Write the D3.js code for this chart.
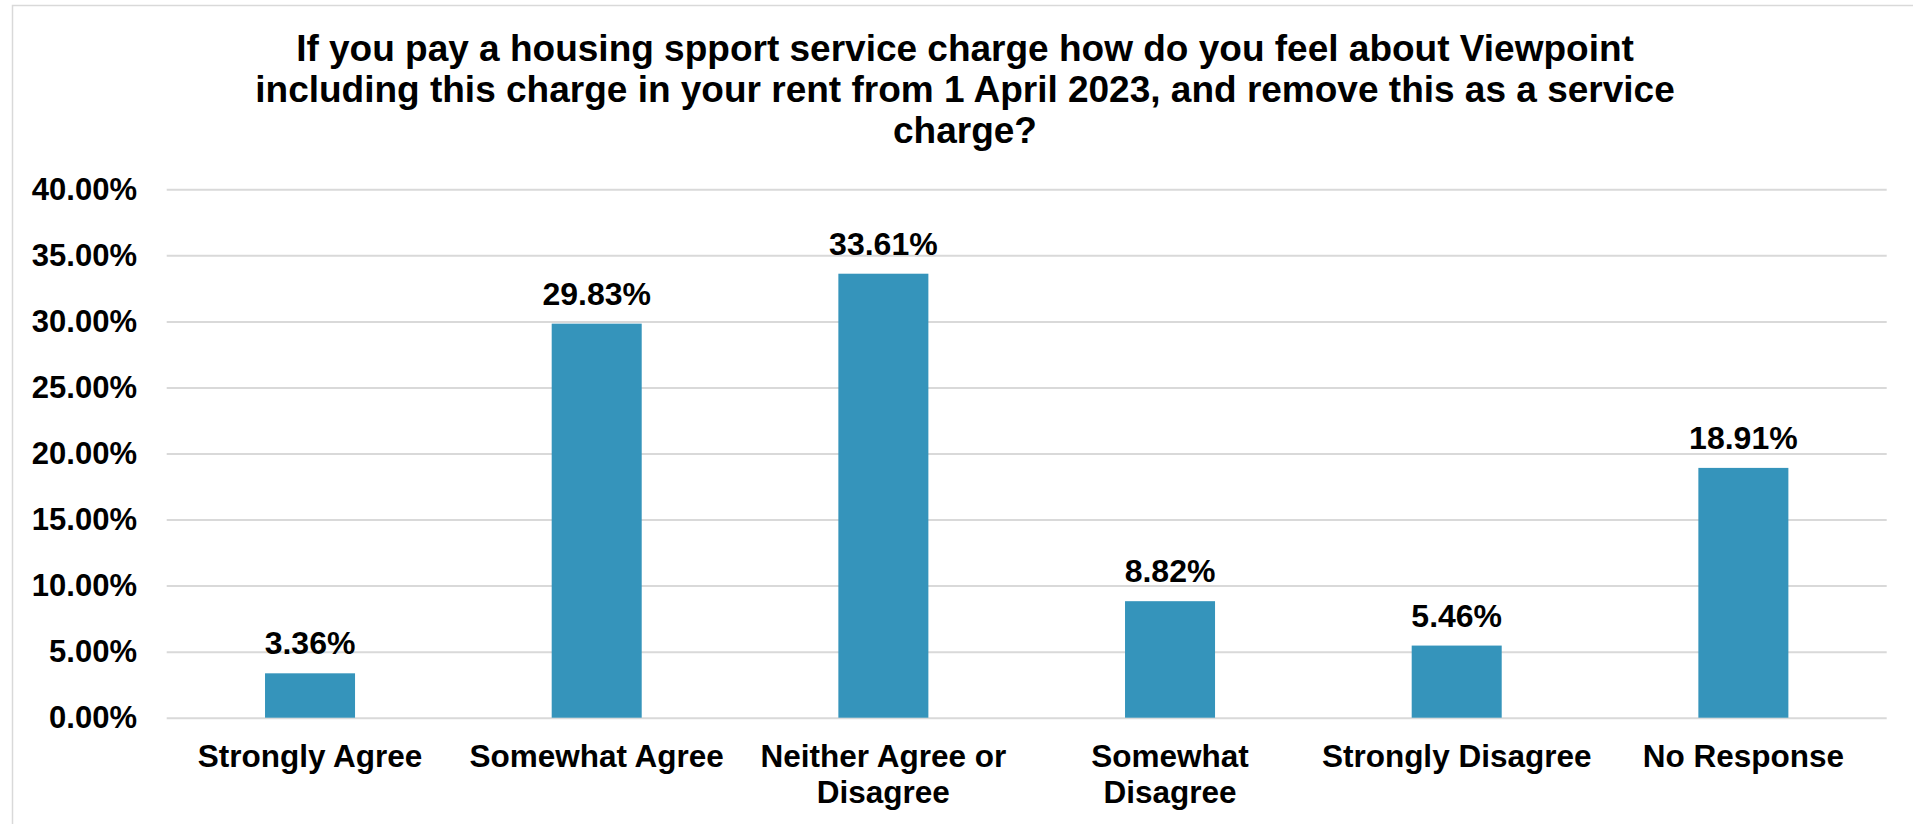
<!DOCTYPE html>
<html>
<head>
<meta charset="utf-8">
<script src="https://cdn.jsdelivr.net/npm/d3@7"></script>
<style>
  html, body { margin: 0; padding: 0; background: #ffffff; }
  svg { display: block; }
  text { font-family: Arial, "Liberation Sans", Helvetica, sans-serif; font-weight: bold; fill: #000; }
</style>
</head>
<body>
<svg id="chart" width="1913" height="824"></svg>
<script>
// Survey responses (share of respondents)
const categories = ["Strongly Agree", "Somewhat Agree", "Neither Agree or Disagree",
                    "Somewhat Disagree", "Strongly Disagree", "No Response"];
const shares = [3.36, 29.83, 33.61, 8.82, 5.46, 18.91];
const yTicks = [0, 5, 10, 15, 20, 25, 30, 35, 40];
const titleLines = [
  "If you pay a housing spport service charge how do you feel about Viewpoint",
  "including this charge in your rent from 1 April 2023, and remove this as a service",
  "charge?"
];

const W = 1913, H = 824;
const plot = { left: 166.7, right: 1886.7, top: 189.3, bottom: 717.7 };
const svg = d3.select("#chart");

// chart frame
svg.append("rect")
  .attr("x", 12.5).attr("y", 5.5)
  .attr("width", W).attr("height", H)
  .attr("fill", "#fff")
  .attr("stroke", "#d9d9d9").attr("stroke-width", 1.5);

// title
svg.append("g").selectAll("text")
  .data(titleLines).join("text")
  .attr("x", 965)
  .attr("y", (d, i) => 60.7 + i * 41)
  .attr("text-anchor", "middle")
  .style("font-size", "37px")
  .text(d => d);

const x = d3.scaleBand()
  .domain(categories)
  .range([plot.left, plot.right])
  .paddingInner(0.686)
  .paddingOuter(0.343);

const y = d3.scaleLinear()
  .domain([0, 40])
  .range([plot.bottom, plot.top]);

// gridlines + y tick labels
const yAxis = d3.axisLeft(y)
  .tickValues(yTicks)
  .tickSize(-(plot.right - plot.left))
  .tickPadding(29.7)
  .tickFormat(d => d.toFixed(2) + "%");

const gy = svg.append("g")
  .attr("transform", `translate(${plot.left},0)`)
  .call(yAxis);
gy.select(".domain").remove();
gy.selectAll(".tick line").attr("stroke", "#d9d9d9").attr("stroke-width", 2);
gy.selectAll(".tick text")
  .attr("fill", "#000")
  .style("font-family", "Arial, 'Liberation Sans', sans-serif")
  .style("font-weight", "bold")
  .style("font-size", "31px");

// bars
svg.append("g").selectAll("rect")
  .data(categories).join("rect")
  .attr("x", d => x(d))
  .attr("width", x.bandwidth())
  .attr("y", (d, i) => y(shares[i]))
  .attr("height", (d, i) => y(0) - y(shares[i]))
  .attr("fill", "#3594bb");

// value labels
svg.append("g").selectAll("text")
  .data(categories).join("text")
  .attr("x", d => x(d) + x.bandwidth() / 2)
  .attr("y", (d, i) => y(shares[i]) - 19)
  .attr("text-anchor", "middle")
  .style("font-size", "32px")
  .text((d, i) => shares[i].toFixed(2) + "%");

// category labels, wrapped to the band width
const step = x.step();
const catG = svg.append("g");
categories.forEach(cat => {
  const cx = x(cat) + x.bandwidth() / 2;
  const t = catG.append("text")
    .attr("x", cx)
    .attr("y", 766.7)
    .attr("text-anchor", "middle")
    .style("font-size", "31.5px");
  const words = cat.split(" ");
  let line = [];
  let tspan = t.append("tspan").attr("x", cx).attr("dy", 0);
  words.forEach(w => {
    line.push(w);
    tspan.text(line.join(" "));
    if (tspan.node().getComputedTextLength() > step - 6 && line.length > 1) {
      line.pop();
      tspan.text(line.join(" "));
      line = [w];
      tspan = t.append("tspan")
        .attr("x", cx)
        .attr("dy", 36.6)
        .text(w);
    }
  });
});
</script>
</body>
</html>
